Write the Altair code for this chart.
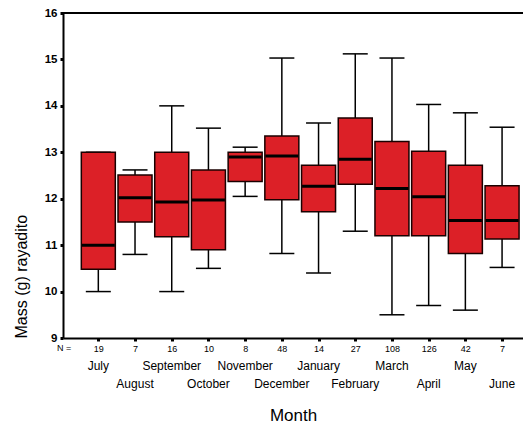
import altair as alt
import pandas as pd

months = ["July", "August", "September", "October", "November", "December",
          "January", "February", "March", "April", "May", "June"]
counts = [19, 7, 16, 10, 8, 48, 14, 27, 108, 126, 42, 7]
mins = [10.0, 10.8, 10.0, 10.5, 12.05, 10.82, 10.4, 11.3, 9.5, 9.7, 9.6, 10.52]
q1 = [10.48, 11.5, 11.18, 10.9, 12.37, 11.98, 11.72, 12.31, 11.2, 11.2, 10.82, 11.13]
med = [11.0, 12.02, 11.93, 11.97, 12.9, 12.92, 12.27, 12.85, 12.22, 12.04, 11.53, 11.53]
q3 = [13.0, 12.51, 13.0, 12.62, 13.0, 13.35, 12.72, 13.74, 13.23, 13.02, 12.72, 12.28]
maxs = [13.0, 12.62, 14.0, 13.52, 13.11, 15.03, 13.63, 15.12, 15.03, 14.03, 13.85, 13.54]
y_ticks = [9, 10, 11, 12, 13, 14, 15, 16]

FONT = "Liberation Sans"
W, H = 460, 325
RED = "#dc2027"

df = pd.DataFrame({
    "idx": list(range(len(months))),
    "month": months,
    "n": counts,
    "lo": mins, "q1": q1, "med": med, "q3": q3, "hi": maxs,
})
df["row"] = df["idx"] % 2

label_expr = "[" + ",".join("'%d'" % c for c in counts) + "][datum.value]"

xscale = alt.Scale(domain=[-0.826, 11.434], nice=False, zero=False)
yscale = alt.Scale(domain=[9, 16], nice=False, zero=False)

x_axis = alt.Axis(
    values=list(range(len(months))), labelExpr=label_expr, title="Month",
    domainColor="black", domainWidth=2, tickColor="black", tickWidth=3, tickSize=3,
    labelFont=FONT, labelFontSize=9, labelColor="black", labelPadding=3,
    labelBaseline="top", grid=False,
    titleFont=FONT, titleFontSize=17, titleFontWeight="normal", titleColor="black",
    titleY=82, titleBaseline="alphabetic",
)
y_axis = alt.Axis(
    values=y_ticks, title="Mass (g) rayadito", format="d",
    domainColor="black", domainWidth=2, tickColor="black", tickWidth=3, tickSize=3,
    labelFont=FONT, labelFontSize=11.5, labelFontWeight="bold", labelColor="black",
    labelPadding=3, grid=False,
    titleFont=FONT, titleFontSize=16, titleFontWeight="normal", titleColor="black",
    titleAnchor="start", titleX=-37, titleBaseline="alphabetic",
)

base = alt.Chart(df)
X = alt.X("idx:Q", scale=xscale, axis=x_axis)

whisker = base.mark_rule(color="black", strokeWidth=1.5).encode(
    x=X, y=alt.Y("lo:Q", scale=yscale, axis=y_axis), y2="hi:Q")
caps_lo = base.mark_tick(orient="horizontal", size=25, thickness=1.5, color="black", opacity=1).encode(
    x="idx:Q", y="lo:Q")
caps_hi = base.mark_tick(orient="horizontal", size=25, thickness=1.5, color="black", opacity=1).encode(
    x="idx:Q", y="hi:Q")
box = base.mark_bar(size=34, color=RED, stroke="#1a0000", strokeWidth=1.5, opacity=1).encode(
    x="idx:Q", y="q1:Q", y2="q3:Q")
median = base.mark_tick(orient="horizontal", size=33, thickness=3, color="black", opacity=1).encode(
    x="idx:Q", y="med:Q")
topline = alt.Chart(pd.DataFrame({"v": [16]})).mark_rule(color="black", strokeWidth=2).encode(
    y=alt.Y("v:Q", scale=yscale))

row1 = base.transform_filter("datum.row == 0").mark_text(
    font=FONT, fontSize=12, color="black", baseline="middle").encode(
    x="idx:Q", y=alt.value(H + 28), text="month:N")
row2 = base.transform_filter("datum.row == 1").mark_text(
    font=FONT, fontSize=12, color="black", baseline="middle").encode(
    x="idx:Q", y=alt.value(H + 46), text="month:N")
nlab = alt.Chart(pd.DataFrame({"t": ["N ="]})).mark_text(
    font=FONT, fontSize=9, color="black", baseline="middle", align="center").encode(
    x=alt.value(1), y=alt.value(H + 10), text="t:N")

chart = alt.layer(whisker, caps_lo, caps_hi, box, median, topline, row1, row2, nlab).properties(
    width=W, height=H,
    autosize=alt.AutoSizeParams(type="none"),
    padding={"left": 55, "top": 5, "right": 0, "bottom": 87},
).configure_view(stroke=None).configure(background="white")

chart.save("out.html", embed_options={"renderer": "svg", "actions": False})
